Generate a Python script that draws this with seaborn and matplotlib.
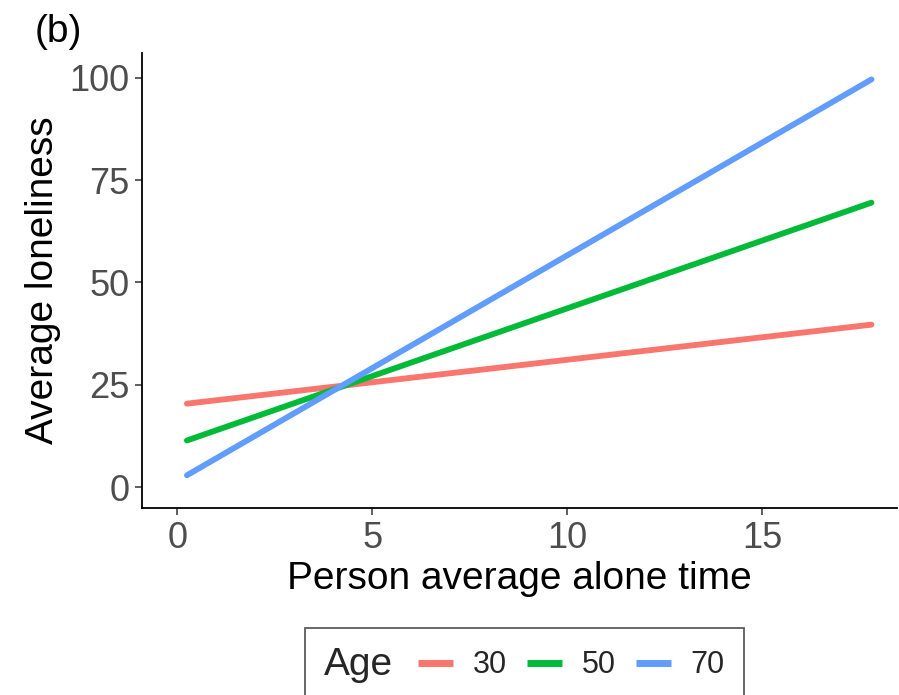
import numpy as np
import pandas as pd
import matplotlib
matplotlib.use("Agg")
import matplotlib.pyplot as plt
import seaborn as sns
from matplotlib.offsetbox import HPacker

# Line endpoints
ages = ["30", "50", "70"]
alone_time = [0.25, 17.8]
loneliness_30 = [20.4, 39.7]
loneliness_50 = [11.4, 69.5]
loneliness_70 = [2.9, 99.6]

colors = ["#F8766D", "#00BA38", "#619CFF"]

df = pd.DataFrame({
    "Person average alone time": alone_time * 3,
    "Average loneliness": loneliness_30 + loneliness_50 + loneliness_70,
    "Age": [a for a in ages for _ in alone_time],
})

sns.set_style("white")
plt.rcParams["font.family"] = ["Liberation Sans", "DejaVu Sans"]

fig = plt.figure(figsize=(8.99, 6.95), dpi=100)
ax = fig.add_axes([0.158, 0.269, 0.84, 0.655])

sns.lineplot(data=df, x="Person average alone time", y="Average loneliness",
             hue="Age", palette=colors, linewidth=4.2, ax=ax, legend=True)

ax.set_xlim(-0.9, 18.46)
ax.set_ylim(-5.1, 106.1)
ax.set_xticks([0, 5, 10, 15])
ax.set_yticks([0, 25, 50, 75, 100])
ax.tick_params(axis="both", labelsize=26, colors="#333333", labelcolor="#4D4D4D",
               length=5, width=1.1, direction="out", left=True, bottom=True, pad=4)
ax.set_xlabel("Person average alone time", fontsize=28, color="black", labelpad=4)
ax.set_ylabel("Average loneliness", fontsize=28, color="black", labelpad=6)

for side in ["top", "right"]:
    ax.spines[side].set_visible(False)
for side in ["left", "bottom"]:
    ax.spines[side].set_color("black")
    ax.spines[side].set_linewidth(1.3)

handles, labels = ax.get_legend_handles_labels()
for h in handles:
    h.set_linewidth(5)
    h.set_solid_capstyle("butt")
ax.get_legend().remove()
leg = fig.legend(handles, labels, title="Age", ncol=3, loc="upper center",
                 bbox_to_anchor=(0.583, 0.118), fontsize=22, title_fontsize=28,
                 frameon=True, fancybox=False, edgecolor="#333333",
                 handlelength=1.15, handletextpad=0.65, columnspacing=0.65,
                 borderpad=0.62)
leg.get_frame().set_linewidth(1.3)
# put the title to the left of the keys, like ggplot
leg._legend_box.__class__ = HPacker
leg._legend_box.sep = 18

fig.text(0.038, 0.94, "(b)", fontsize=28, color="black")

fig.savefig("out.png", dpi=100)
